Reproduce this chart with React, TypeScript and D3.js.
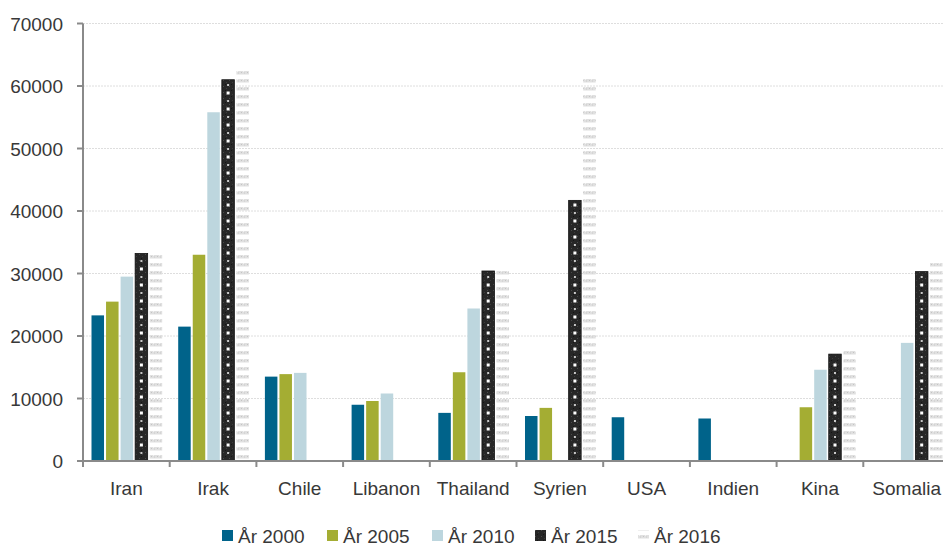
import React from "react";
import * as d3 from "d3";

const categories = ["Iran", "Irak", "Chile", "Libanon", "Thailand", "Syrien", "USA", "Indien", "Kina", "Somalia"];
const seriesNames = ["År 2000", "År 2005", "År 2010", "År 2015", "År 2016"];
const y2000: (number | null)[] = [23300, 21500, 13500, 9000, 7700, 7200, 7000, 6800, null, null];
const y2005: (number | null)[] = [25500, 33000, 13900, 9600, 14200, 8500, null, null, 8600, null];
const y2010: (number | null)[] = [29500, 55800, 14100, 10800, 24400, null, null, null, 14600, 18900];
const y2015: (number | null)[] = [33200, 61000, null, null, 30400, 41700, null, null, 17100, 30300];
const y2016: (number | null)[] = [33400, 62500, null, null, 30700, 61500, null, null, 17800, 32000];
const seriesValues = [y2000, y2005, y2010, y2015, y2016];
const yTicks = [0, 10000, 20000, 30000, 40000, 50000, 60000, 70000];
const colors = ["#00638a", "#a4ad33", "#bdd6de", "#262626", "#d2d2d2"];

const W = 943;
const H = 546;
const left = 83;
const right = 950;
const top = 23.5;
const bottom = 461;
const font = "'Liberation Sans', Arial, sans-serif";
const textColor = "#383838";

export default function App() {
  const x = d3.scaleBand<string>().domain(categories).range([left, right]).paddingInner(0).paddingOuter(0);
  const bw = x.bandwidth();
  const xs = d3.scaleBand<string>().domain(seriesNames).range([8.5, bw - 7.5]).paddingInner(0.14).paddingOuter(0);
  const y = d3.scaleLinear().domain([0, 70000]).range([bottom, top]);
  const barW = xs.bandwidth();

  const bars: React.ReactNode[] = [];
  seriesValues.forEach((vals, si) => {
    vals.forEach((v, ci) => {
      if (v == null) return;
      const bx = (x(categories[ci]) as number) + (xs(seriesNames[si]) as number);
      const by = y(v);
      const bh = bottom - by;
      const key = `${si}-${ci}`;
      if (si === 3) {
        const dots: React.ReactNode[] = [];
        let k = 0;
        for (let yy = bottom - 8; yy > by + 4; yy -= 8) {
          const big = k % 2 === 1;
          dots.push(
            <rect key={k} x={bx + barW / 2 - (big ? 1.5 : 1)} y={yy - (big ? 1.5 : 0.75)} width={big ? 3 : 2} height={big ? 3 : 1.5} fill="#ffffff" />
          );
          k++;
        }
        bars.push(
          <g key={key}>
            <rect x={bx} y={by} width={barW} height={bh} fill="url(#speckle)" stroke="#111" strokeWidth={0.8} />
            {dots}
          </g>
        );
      } else if (si === 4) {
        bars.push(<rect key={key} x={bx} y={by} width={barW} height={bh} fill="url(#stripes)" />);
      } else {
        bars.push(<rect key={key} x={bx} y={by} width={barW} height={bh} fill={colors[si]} />);
      }
    });
  });

  const legendX = [222, 327, 432, 535, 638];

  return (
    <svg width={W} height={H} style={{ position: "absolute", left: 0, top: 0, background: "#fff" }}>
      <defs>
        <pattern id="speckle" patternUnits="userSpaceOnUse" width={6} height={6}>
          <rect width={6} height={6} fill="#272727" />
          <rect x={1} y={2} width={1} height={1} fill="#4a4a4a" />
          <rect x={4} y={4} width={1} height={1} fill="#3c3c3c" />
          <rect x={3} y={0} width={1} height={1} fill="#151515" />
        </pattern>
        <pattern id="stripes" patternUnits="userSpaceOnUse" width={6} height={8} y={bottom}>
          <rect x={0} y={2} width={6} height={3.5} fill="#e0e0e0" />
          <rect x={1} y={3} width={1} height={1} fill="#c4c4c4" />
          <rect x={4} y={3.5} width={1} height={1} fill="#cacaca" />
          <rect x={3} y={2} width={1} height={1} fill="#f2f2f2" />
        </pattern>
      </defs>
      <rect width={W} height={H} fill="#fff" />
      {yTicks.map((t) => (
        <g key={t}>
          {t > 0 && (
            <line x1={left} x2={right} y1={y(t)} y2={y(t)} stroke="#dedede" strokeWidth={1} strokeDasharray="2,1" />
          )}
          <line x1={left - 6} x2={left} y1={y(t)} y2={y(t)} stroke="#8a8a8a" strokeWidth={2} />
          <text x={63} y={y(t) + 7} textAnchor="end" fontFamily={font} fontSize={19} fill={textColor}>
            {t}
          </text>
        </g>
      ))}
      {bars}
      <line x1={left} x2={left} y1={top} y2={bottom + 1} stroke="#8a8a8a" strokeWidth={2} />
      <line x1={left - 6} x2={right} y1={bottom} y2={bottom} stroke="#8a8a8a" strokeWidth={2} />
      {categories.map((c) => (
        <g key={c}>
          <line x1={x(c) as number} x2={x(c) as number} y1={bottom} y2={bottom + 6} stroke="#8a8a8a" strokeWidth={2} />
          <text x={(x(c) as number) + bw / 2} y={494.5} textAnchor="middle" fontFamily={font} fontSize={19} fill={textColor}>
            {c}
          </text>
        </g>
      ))}
      {seriesNames.map((s, i) => (
        <g key={s}>
          {i === 3 ? (
            <rect x={legendX[i]} y={530} width={11} height={11} fill="url(#speckle)" />
          ) : i === 4 ? (
            <rect x={legendX[i]} y={530} width={11} height={11} fill="url(#stripes)" />
          ) : (
            <rect x={legendX[i]} y={530} width={11} height={11} fill={colors[i]} />
          )}
          <text x={legendX[i] + 16} y={543} fontFamily={font} fontSize={19} fill={textColor}>
            {s}
          </text>
        </g>
      ))}
    </svg>
  );
}
